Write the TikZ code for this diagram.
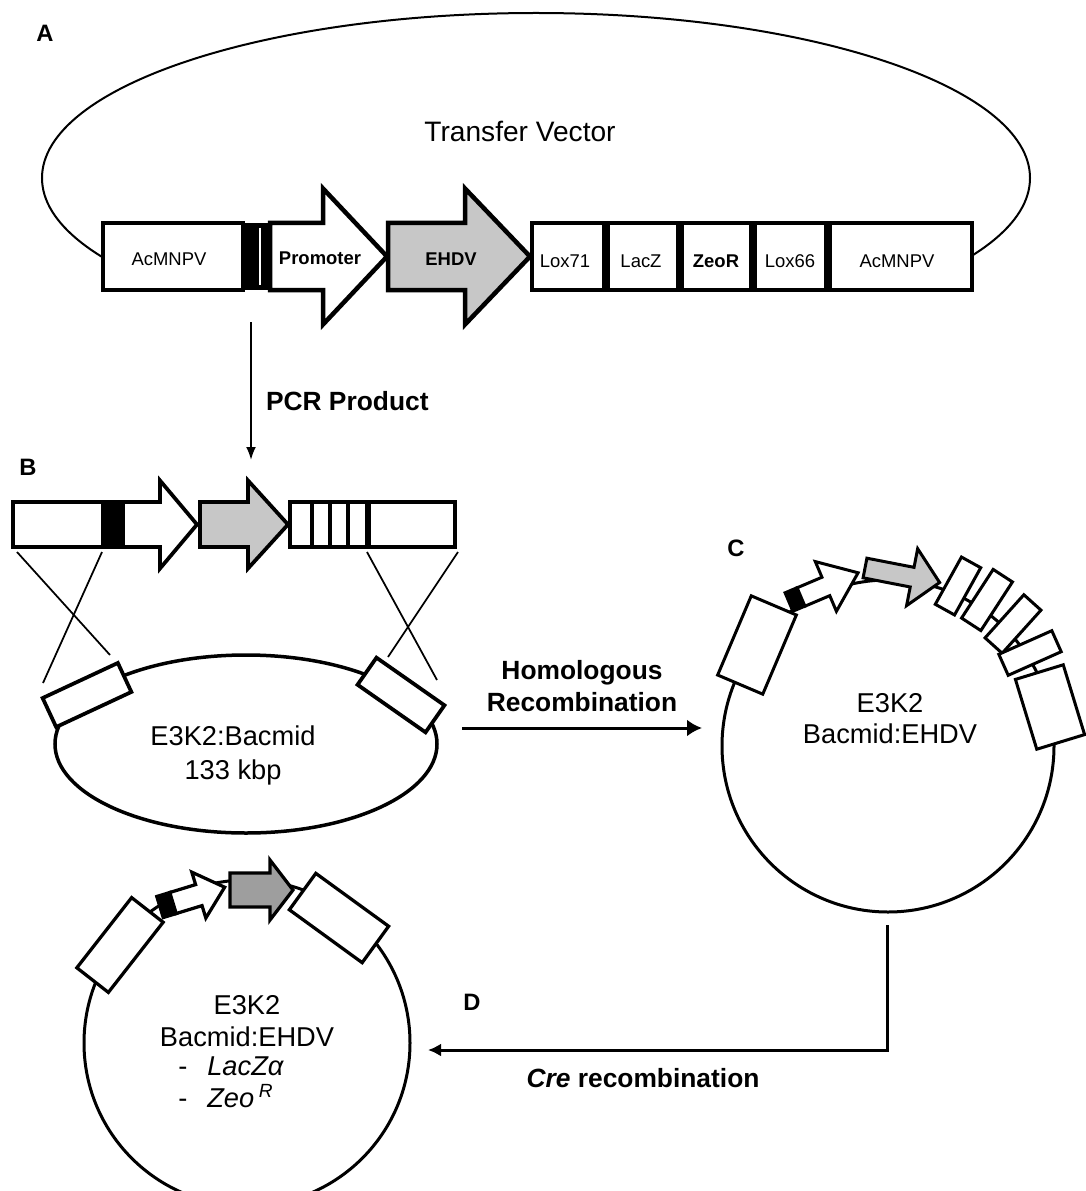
\documentclass[tikz,border=0pt]{standalone}
\usepackage{fontspec}
\setmainfont{Liberation Sans}
\usetikzlibrary{arrows.meta, positioning, shapes.geometric, calc}

% sizes are given in pixels of the layout, 1px = 0.2mm
\newcommand{\pxl}{0.2mm}
% start, angle, body length, total length, body half, head half, style
\newcommand{\genearrow}[7]{%
  \draw[#7, shift={(#1)}, rotate=#2] (0,-#5) -- (#3,-#5) -- (#3,-#6) -- (#4,0)
    -- (#3,#6) -- (#3,#5) -- (0,#5) -- cycle;}
% centre, angle, width, height, style
\newcommand{\genebox}[5]{%
  \draw[#5, shift={(#1)}, rotate=#2] (-#3/2,-#4/2) rectangle (#3/2,#4/2);}

\begin{document}
\begin{tikzpicture}[x=0.2mm, y=0.2mm, line join=miter]
  \tikzstyle{tag} = [font=\fontsize{13.5}{16}\selectfont\bfseries, inner sep=0]
  \tikzstyle{barA} = [draw, line width=0.9mm]
  \tikzstyle{barB} = [draw, line width=0.75mm]
  \tikzstyle{geneC} = [draw, line width=0.6mm]
  \tikzstyle{barlbl} = [font=\fontsize{10.5}{12}\selectfont, inner sep=0]
  \tikzstyle{flowlbl} = [font=\fontsize{15}{18.2}\selectfont\bfseries, inner sep=0, align=center]
  \tikzstyle{plaslbl} = [font=\fontsize{15.5}{17.6}\selectfont, inner sep=0, align=center]
  \tikzstyle{plasmid} = [draw, circle, line width=0.6mm, inner sep=0]
  \tikzstyle{flow} = [line width=0.6mm, -{Latex[length=3mm, width=3mm]}]

  \useasboundingbox (0,0) rectangle (1085,-1191);

  % A: transfer vector
  \node[tag] (tagA) at (45,-33) {A};
  \begin{scope}
    \clip (0,0) rectangle (1085,-257);
    \draw[line width=0.4mm] (536,-178) ellipse [x radius=494, y radius=165];
  \end{scope}
  \node[font=\fontsize{16}{18}\selectfont, inner sep=0] (tvlbl) at (520,-131) {Transfer Vector};

  \draw[barA, fill=white] (103,-223) rectangle (243,-290);
  \fill (243,-223) rectangle (270,-290);
  \draw[white, line width=0.8pt] (260,-228) -- (260,-285);
  \genearrow{270,-256.5}{0}{53}{117}{33.5}{68}{barA, fill=white}
  \genearrow{388,-256.5}{0}{77}{142}{33.5}{68}{barA, fill=black!22}
  \draw[barA, fill=white] (532,-223) rectangle (972,-290);
  \foreach \xd in {606,680,753,828}
    \draw[line width=1.5mm] (\xd,-223) -- (\xd,-290);

  \node[barlbl] (acmL) at (169,-259) {AcMNPV};
  \node[barlbl, font=\fontsize{10.5}{12}\selectfont\bfseries] (prom) at (320,-258) {Promoter};
  \node[barlbl, font=\fontsize{10.5}{12}\selectfont\bfseries] (ehdv) at (451,-259) {EHDV};
  \node[barlbl] (lox71) at (565,-261) {Lox71};
  \node[barlbl] (lacz) at (641,-261) {LacZ};
  \node[barlbl, font=\fontsize{10.5}{12}\selectfont\bfseries] (zeor) at (716,-261) {ZeoR};
  \node[barlbl] (lox66) at (790,-261) {Lox66};
  \node[barlbl] (acmR) at (897,-261) {AcMNPV};

  \coordinate (pcrS) at (251,-322);
  \coordinate (pcrE) at (251,-460);
  \draw[line width=0.4mm, -{Latex[length=2.6mm, width=2mm]}] (pcrS) -- node[flowlbl, pos=0.57, right=2.8mm] (pcrL) {PCR Product} (pcrE);

  % B: PCR product and bacmid
  \node[tag] (tagB) at (28,-467) {B};
  \draw[barB, fill=white] (13,-502) rectangle (103,-547);
  \draw[barB, fill=black] (107,-502) rectangle (123,-547);
  \genearrow{123,-524.5}{0}{37}{74}{22.5}{44}{barB, fill=white}
  \genearrow{200,-524.5}{0}{48}{88}{22.5}{44}{barB, fill=black!22}
  \draw[barB, fill=white] (290,-502) rectangle (455,-547);
  \foreach \xd in {312,330,348}
    \draw[line width=0.7mm] (\xd,-502) -- (\xd,-547);
  \draw[line width=1.1mm] (368,-502) -- (368,-547);

  \draw[line width=0.35mm] (102,-552) -- (43,-683);
  \draw[line width=0.35mm] (17,-552) -- (110,-655);
  \draw[line width=0.35mm] (458,-552) -- (388,-657);
  \draw[line width=0.35mm] (367,-552) -- (437,-680);

  \node[draw, ellipse, line width=0.7mm, inner sep=0, minimum width=382*\pxl, minimum height=178*\pxl] (bacmid) at (246,-744) {};
  \genebox{87,-695}{25}{83}{32}{barB, fill=white}
  \genebox{401,-695}{-35}{83}{33}{barB, fill=white}
  \node[plaslbl, font=\fontsize{15.5}{19.3}\selectfont] (bacmidL) at (233,-755) {E3K2:Bacmid\\133 kbp};

  \coordinate (hrS) at (462,-728);
  \coordinate (hrE) at (702,-728);
  \draw[flow, -{Latex[length=3mm, width=3.4mm]}] (hrS) -- node[flowlbl, above=3mm] (hrL) {Homologous\\Recombination} (hrE);

  % C: recombinant bacmid
  \node[tag] (tagC) at (736,-548) {C};
  \node[plasmid, minimum size=332*\pxl] (plasC) at (888,-746) {};
  \genebox{757,-645}{67}{86}{49}{geneC, fill=white}
  \draw[geneC, fill=black, shift={(789,-602)}, rotate=23] (0,-10) rectangle (13,10);
  \genearrow{801,-597}{23}{27}{62}{10}{27}{geneC, fill=white}
  \genearrow{865,-568}{-11}{48}{76}{10}{29}{geneC, fill=black!22}
  \genebox{958,-586}{61}{54}{22}{geneC, fill=white}
  \genebox{987,-600}{57}{58}{23}{geneC, fill=white}
  \genebox{1013,-624}{48}{58}{23}{geneC, fill=white}
  \genebox{1030,-653}{24}{58}{23}{geneC, fill=white}
  \genebox{1050,-707}{-73}{73}{50}{geneC, fill=white}
  \node[plaslbl] (plasCL) at (890,-719) {E3K2\\Bacmid:EHDV};

  \coordinate (creS) at (887,-925);
  \coordinate (creE) at (428,-1050);
  \draw[flow, -{Latex[length=2.6mm, width=2.6mm]}] (creS) |- (creE);
  \node[tag] (tagD) at (472,-1002) {D};
  \node[flowlbl] (creL) at (643,-1078) {\textit{Cre} recombination};

  % D: after Cre recombination
  \node[plasmid, minimum size=326*\pxl] (plasD) at (247,-1043) {};
  \genebox{120,-945}{52}{89}{40}{geneC, line width=0.65mm, fill=white}
  \draw[geneC, line width=0.65mm, fill=black, shift={(160,-907)}, rotate=17] (0,-11) rectangle (14,11);
  \genearrow{173,-903}{17}{27}{54}{11}{24}{geneC, line width=0.65mm, fill=white}
  \genearrow{230,-890}{0}{40}{63}{17}{30}{geneC, line width=0.65mm, fill=black!38}
  \genebox{339,-918}{-36}{90}{45}{geneC, line width=0.65mm, fill=white}
  \node[plaslbl, font=\fontsize{15.5}{18.2}\selectfont] (plasDL) at (247,-1021) {E3K2\\Bacmid:EHDV};
  \node[plaslbl, anchor=west] (lacza) at (178,-1066) {\makebox[5.8mm][l]{-}\textit{LacZα}};
  \node[plaslbl, anchor=west] (zeoR) at (178,-1096) {\makebox[5.8mm][l]{-}\textit{Zeo}\,\textsuperscript{\textit{R}}};
\end{tikzpicture}
\end{document}
